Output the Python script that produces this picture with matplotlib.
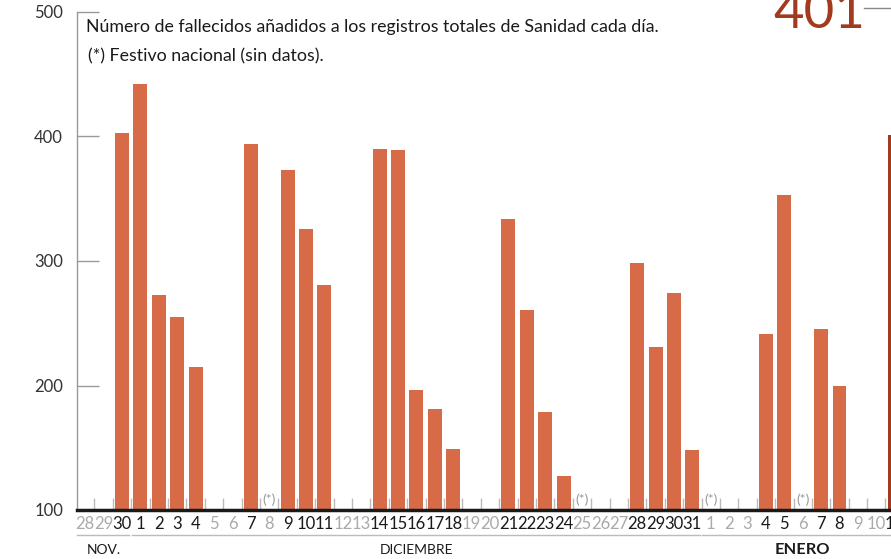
import matplotlib
matplotlib.use("Agg")
import matplotlib.pyplot as plt
import matplotlib.transforms as mtransforms
from matplotlib.lines import Line2D

plt.rcParams['font.family'] = ['Lato', 'DejaVu Sans']

# 28 nov. -> 11 ene.
days = [28, 29, 30] + list(range(1, 32)) + list(range(1, 12))
deaths = [None, None, 403,
          442, 273, 255, 215, None, None, 394, None, 373, 326, 281, None, None,
          390, 389, 196, 181, 149, None, None, 334, 261, 179, 127, None, None,
          None, 298, 231, 274, 148,
          None, None, None, 241, 353, None, 245, 200, None, None, 401]
holidays = [10, 27, 34, 39]          # 8 dic, 25 dic, 1 ene, 6 ene
month_names = ["NOV.", "DICIEMBRE", "ENERO"]
month_spans = [(0, 2), (3, 33), (34, 44)]
yticks = [100, 200, 300, 400, 500]

BAR = "#d76b47"
LAST = "#a33a1e"
GRAY = "#aaaaaa"

fig = plt.figure(figsize=(8.91, 5.59), dpi=100)
ax = fig.add_axes([77 / 891, 49 / 559, 814 / 891, 498 / 559])

xs = [i for i, v in enumerate(deaths) if v is not None]
vals = [v for v in deaths if v is not None]
colors = [BAR] * (len(xs) - 1) + [LAST]
ax.bar(xs, [v - 100 for v in vals], bottom=100, width=0.76, color=colors, zorder=3)

ax.set_xlim(-0.45, 43.8)
ax.set_ylim(100, 500)

# small day separators on the baseline
ax.vlines([i + 0.5 for i in range(len(days))], 100, 109.5, color="#bbbbbb", lw=1, zorder=1)

for s in ["top", "right"]:
    ax.spines[s].set_visible(False)
ax.spines["left"].set_color("#999999")
ax.spines["left"].set_linewidth(1)
ax.spines["bottom"].set_color("#1a1a1a")
ax.spines["bottom"].set_linewidth(2.5)
ax.spines["bottom"].set_zorder(4)

ax.set_xticks([])
ax.set_yticks(yticks)
ax.tick_params(axis="y", direction="in", length=16, color="#999999", width=1,
               labelsize=12, labelcolor="#333333", pad=10)

trans = mtransforms.blended_transform_factory(ax.transData, ax.transAxes)

# day labels
for i, d in enumerate(days):
    c = "#1a1a1a" if deaths[i] is not None else GRAY
    ax.text(i, -0.029, str(d), transform=trans, ha="center", va="center",
            fontsize=12, color=c, clip_on=False)

# festivos
for i in holidays:
    ax.text(i, 108, "(*)", ha="center", va="center", fontsize=10, color="#999999", zorder=2)

# months
for name, (a, b) in zip(month_names, month_spans):
    ax.add_line(Line2D([a - 0.45, b + 0.4], [-0.05, -0.05], transform=trans,
                       color="#bbbbbb", lw=1, clip_on=False))
    bold = name == "ENERO"
    ax.text((a + b) / 2, -0.081, name, transform=trans, ha="center", va="center",
            fontsize=11.8 if bold else 10, fontweight="bold" if bold else "normal",
            color="#1a1a1a", clip_on=False)

ax.text(0.011, 0.969, "Número de fallecidos añadidos a los registros totales de Sanidad cada día.",
        transform=ax.transAxes, fontsize=12.8, color="#1a1a1a", va="center", ha="left")
ax.text(0.014, 0.911, "(*) Festivo nacional (sin datos).",
        transform=ax.transAxes, fontsize=12.8, color="#1a1a1a", va="center", ha="left")

# highlighted last value
fig.text(773 / 891, 1 - 28 / 559, str(deaths[-1]), fontsize=38, color=LAST,
         ha="left", va="baseline")
fig.add_artist(Line2D([864 / 891, 1.0], [1 - 8 / 559, 1 - 8 / 559],
                      transform=fig.transFigure, color="#888888", lw=1))

fig.savefig("out.png", dpi=100)
